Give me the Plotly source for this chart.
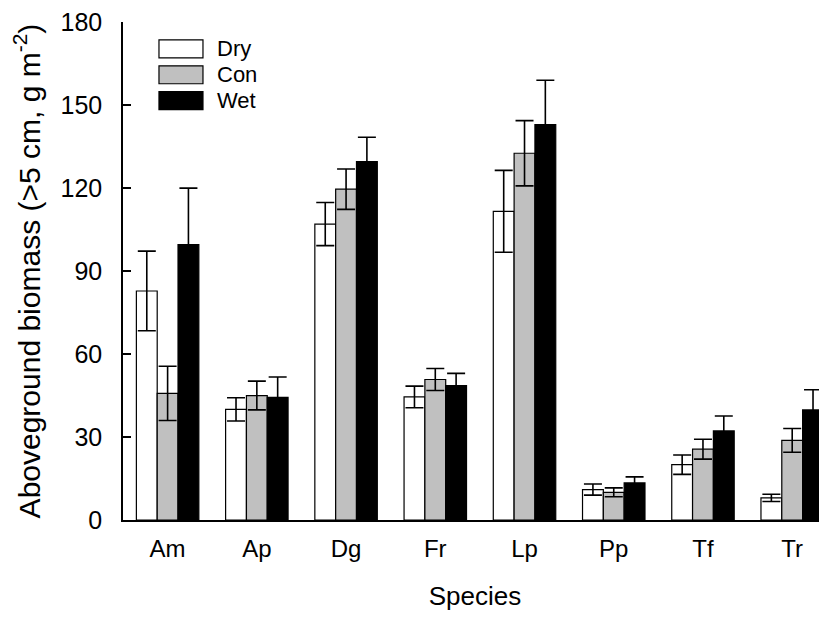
import plotly.graph_objects as go

species = ["Am", "Ap", "Dg", "Fr", "Lp", "Pp", "Tf", "Tr"]
series_names = ["Dry", "Con", "Wet"]
dry = [82.8, 40.0, 107.0, 44.5, 111.6, 11.0, 20.0, 8.0]
dry_se = [14.4, 4.2, 7.8, 3.9, 14.8, 2.0, 3.5, 1.3]
con = [45.8, 45.0, 119.6, 50.8, 132.6, 10.0, 25.6, 28.8]
con_se = [9.8, 5.2, 7.3, 4.0, 11.8, 1.6, 3.6, 4.3]
wet = [99.6, 44.3, 129.6, 48.6, 143.0, 13.4, 32.2, 39.8]
wet_se = [20.4, 7.4, 8.8, 4.4, 16.0, 2.2, 5.4, 7.3]
fills = ["#ffffff", "#c0c0c0", "#000000"]
y_ticks = [0, 30, 60, 90, 120, 150, 180]

FONT = "Liberation Sans, Arial, sans-serif"

fig = go.Figure()
for name, vals, se, col in zip(series_names, [dry, con, wet], [dry_se, con_se, wet_se], fills):
    fig.add_trace(go.Bar(
        x=species, y=vals, name=name,
        marker=dict(color=col, line=dict(color="black", width=1.2)),
        error_y=dict(type="data", array=se, visible=True, color="black", thickness=1.6, width=9),
        showlegend=False,
    ))

# manual legend (large swatches like the original)
leg_x0, leg_y0, sw_w, sw_h, row = 0.0511, 0.964, 0.0625, 0.036, 0.052
for i, (name, col) in enumerate(zip(series_names, fills)):
    yt = leg_y0 - i * row
    fig.add_shape(type="rect", xref="paper", yref="paper",
                  x0=leg_x0, x1=leg_x0 + sw_w, y0=yt - sw_h, y1=yt,
                  fillcolor=col, line=dict(color="black", width=1.2))
    fig.add_annotation(xref="paper", yref="paper", x=0.13, y=yt - sw_h / 2,
                       text=name, showarrow=False, xanchor="left", yanchor="middle",
                       font=dict(size=22, color="black", family=FONT))

# the page adds an 8px body margin, so the figure is 8px smaller on each side it touches
fig.update_layout(
    width=819, height=611,
    margin=dict(l=115, r=0, t=12, b=99),
    plot_bgcolor="white", paper_bgcolor="white",
    barmode="group", bargap=0.3, bargroupgap=0,
    font=dict(family=FONT, color="black"),
    xaxis=dict(
        range=[-0.5, 7.39], showline=True, linecolor="black", linewidth=1.5,
        ticks="", tickfont=dict(size=24), ticklabelstandoff=6,
        title=dict(text="Species", font=dict(size=26), standoff=26),
        showgrid=False, zeroline=False,
    ),
    yaxis=dict(
        range=[0, 180.05], tickvals=y_ticks, showline=True, linecolor="black", linewidth=1.5,
        ticks="inside", ticklen=8, tickwidth=1.5, tickcolor="black",
        tickfont=dict(size=25), ticklabelstandoff=14, ticklabeloverflow="allow",
        title=dict(text="Aboveground biomass (>5 cm, g m<sup>-2</sup>)", font=dict(size=30), standoff=12),
        showgrid=False, zeroline=False,
    ),
)

fig.write_html("out.html")
